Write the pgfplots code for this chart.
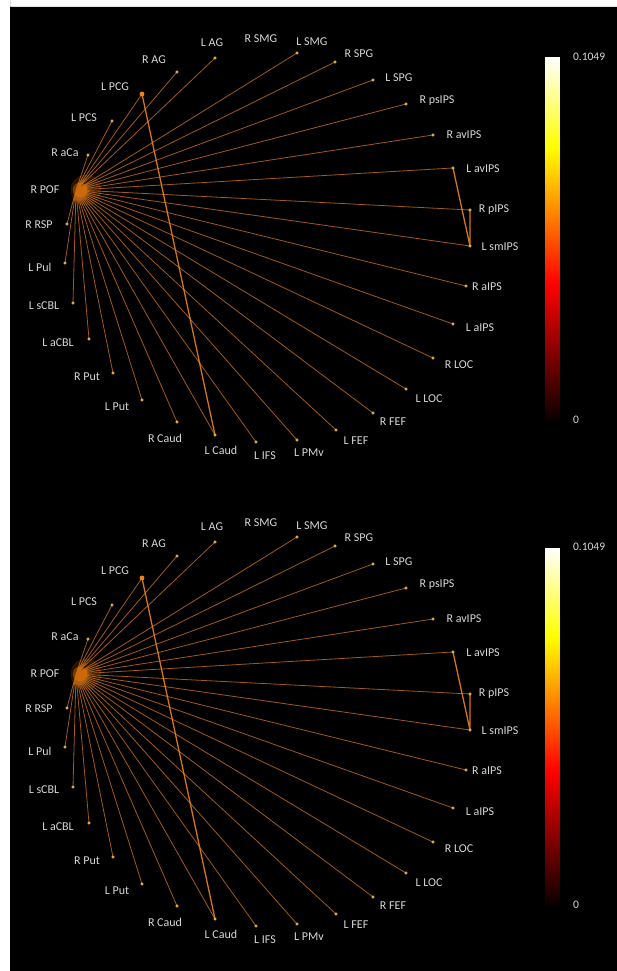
\documentclass[border=0pt]{standalone}
\usepackage{fontspec}
\setmainfont{Carlito}
\usepackage{pgfplots}
\usepackage{pgfplotstable}
\pgfplotsset{compat=1.18}
\definecolor{labgray}{RGB}{215,215,215}
\definecolor{edgeC}{RGB}{190,105,30}
\definecolor{dotC}{RGB}{230,180,70}
\definecolor{strongC}{RGB}{235,130,30}

% node dot positions (px, y downward) of the top panel
\pgfplotstableread{
x y
470 210
453 168
433 135
406 104
373 80
335 62
297 53
215 58
177 72
142 94
112 121
88 155
67 224
65 263
73 303
89 339
113 373
142 400
177 422
215 435
256 442
297 440
336 430
373 413
406 389
433 358
453 324
466 286
470 246
}\nodesT

% edges: R POF hub to every node, plus three other links
\pgfplotstableread{
x y
76 190
470 210
nan nan
76 190
453 168
nan nan
76 190
433 135
nan nan
76 190
406 104
nan nan
76 190
373 80
nan nan
76 190
335 62
nan nan
76 190
297 53
nan nan
76 190
215 58
nan nan
76 190
177 72
nan nan
76 190
142 94
nan nan
76 190
112 121
nan nan
76 190
88 155
nan nan
76 190
67 224
nan nan
76 190
65 263
nan nan
76 190
73 303
nan nan
76 190
89 339
nan nan
76 190
113 373
nan nan
76 190
142 400
nan nan
76 190
177 422
nan nan
76 190
215 435
nan nan
76 190
256 442
nan nan
76 190
297 440
nan nan
76 190
336 430
nan nan
76 190
373 413
nan nan
76 190
406 389
nan nan
76 190
433 358
nan nan
76 190
453 324
nan nan
76 190
466 286
nan nan
76 190
470 246
}\edgesT

\pgfplotstableread{
x y
142 94
215 435
nan nan
453 168
470 246
nan nan
470 210
470 246
}\strongT

\pgfplotstableread[col sep=comma]{
x,y,label
494,210,R pIPS
483,169,L avIPS
464,135,R avIPS
437,101,R psIPS
399,78,L SPG
359,54,R SPG
312,42,L SMG
261,39,R SMG
212,43,L AG
154,60,R AG
115,87,L PCG
84,118,L PCS
65,153,R aCa
45,190,R POF
39,225,R RSP
40,267,L Pul
44,306,L sCBL
58,343,L aCBL
87,377,R Put
117,407,L Put
165,438,R Caud
221,450,L Caud
265,456,L IFS
309,453,L PMv
356,441,L FEF
393,422,R FEF
429,399,L LOC
459,365,R LOC
480,328,L aIPS
487,287,R aIPS
500,247,L smIPS
}\labelsT

\pgfplotsset{
  panel/.style={
    scale only axis, width=617pt, xmin=0, xmax=617, y dir=reverse,
    axis line style={draw=none}, ticks=none, clip=false,
    colormap={hot}{rgb255(0cm)=(10,0,0) rgb255(3cm)=(255,0,0) rgb255(6cm)=(255,255,0) rgb255(8cm)=(255,255,255)},
    point meta min=0, point meta max=0.1049,
    colorbar,
  },
  cbar/.style={
    at={(parent axis.north west)}, anchor=north west,
    scale only axis, width=20pt,
    axis line style={draw=none},
    ytick={0,0.1049}, yticklabels={0,0.1049},
    major tick length=0pt,
    yticklabel pos=right,
    /pgf/number format/assume math mode=true,
    yticklabel style={font=\fontsize{11.5}{12}\selectfont, text=labgray, anchor=west, xshift=4pt},
  },
}

\newcommand{\network}{%
  \addplot[edgeC, line width=0.8pt, opacity=0.85, unbounded coords=jump] table {\edgesT};
  \addplot[strongC, line width=1.3pt, opacity=0.9, unbounded coords=jump] table {\strongT};
  \addplot[only marks, mark=*, mark size=15pt, color=orange, opacity=0.15, draw=none] coordinates {(86,190)};
  \addplot[only marks, mark=*, mark size=7pt, color=orange, opacity=0.35, draw=none] coordinates {(80,190)};
  \addplot[only marks, mark=*, mark size=1.3pt, color=dotC] table {\nodesT};
  \addplot[only marks, mark=*, mark size=2.2pt, color=strongC] coordinates {(142,94)};
  \addplot[draw=none, mark=none, nodes near coords, point meta=explicit symbolic,
    nodes near coords style={anchor=center, font=\fontsize{12}{13}\selectfont, text=labgray}]
    table[meta=label] {\labelsT};
}

\begin{document}
\begin{tikzpicture}
\path[use as bounding box] (0,0) rectangle (617pt,971pt);
\fill[white] (0,0) rectangle (617pt,971pt);
\begin{axis}[panel, at={(0pt,485pt)}, height=486pt, ymin=0, ymax=486,
  colorbar style={cbar, xshift=537pt, yshift=-57pt, height=363pt}]
  \addplot[fill=black, draw=none] coordinates {(10,7) (617,7) (617,486) (10,486)} \closedcycle;
  \network
\end{axis}
\begin{axis}[panel, at={(0pt,0pt)}, height=485pt, ymin=2, ymax=487,
  colorbar style={cbar, xshift=537pt, yshift=-61pt, height=358pt}]
  \addplot[fill=black, draw=none] coordinates {(10,2) (617,2) (617,487) (10,487)} \closedcycle;
  \network
\end{axis}
\end{tikzpicture}
\end{document}
